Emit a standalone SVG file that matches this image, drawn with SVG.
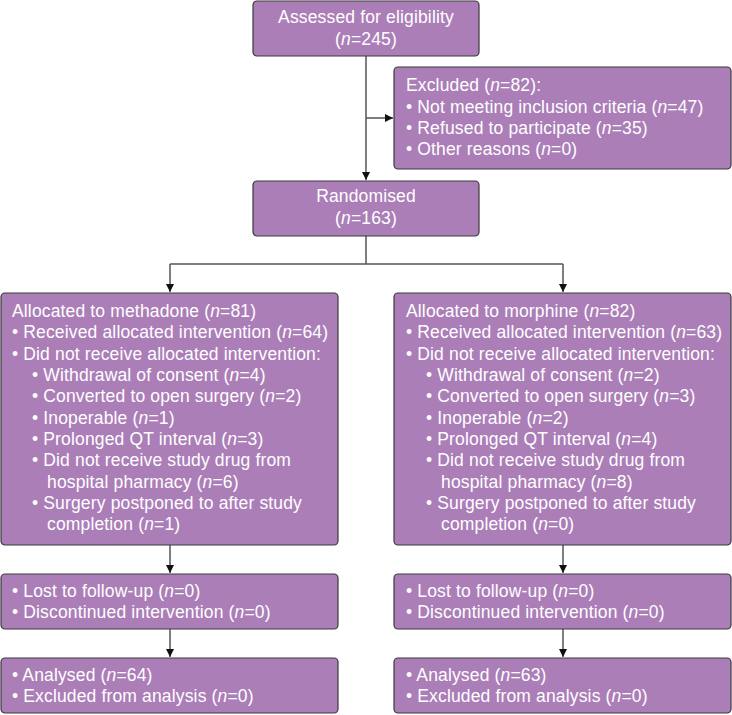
<svg xmlns="http://www.w3.org/2000/svg" width="732" height="715" viewBox="0 0 732 715">
<style>
.box{fill:#ab7eb8;stroke:#3a3a3a;stroke-width:1.2}
text{font-family:"Liberation Sans",Arial,sans-serif;font-size:17.5px;letter-spacing:0.15px;fill:#ffffff}
.c{text-anchor:middle}
.i{font-style:italic}
.ln{fill:none;stroke:#555;stroke-width:1.5}
</style>
<defs>
<marker id="ah" markerWidth="10" markerHeight="10" refX="8" refY="4" orient="auto" markerUnits="userSpaceOnUse">
<path d="M0,0 L8,4 L0,8 z" fill="#111"/>
</marker>
</defs>
<rect width="732" height="715" fill="#ffffff"/>
<g id="connectors">
<line class="ln" x1="366" y1="56" x2="366" y2="180" marker-end="url(#ah)"/>
<line class="ln" x1="366" y1="118" x2="393" y2="118" marker-end="url(#ah)"/>
<line class="ln" x1="366" y1="236" x2="366" y2="264"/>
<line class="ln" x1="170" y1="264" x2="563" y2="264"/>
<line class="ln" x1="170" y1="264" x2="170" y2="292" marker-end="url(#ah)"/>
<line class="ln" x1="563" y1="264" x2="563" y2="292" marker-end="url(#ah)"/>
<line class="ln" x1="170" y1="545" x2="170" y2="573" marker-end="url(#ah)"/>
<line class="ln" x1="563" y1="545" x2="563" y2="573" marker-end="url(#ah)"/>
<line class="ln" x1="170" y1="629" x2="170" y2="657" marker-end="url(#ah)"/>
<line class="ln" x1="563" y1="629" x2="563" y2="657" marker-end="url(#ah)"/>
</g>
<g id="assessed">
<rect class="box" x="253" y="1" width="226" height="55" rx="4"/>
<text class="c" x="366" y="23">Assessed for eligibility</text>
<text class="c" x="366" y="45">(<tspan class="i">n</tspan>=245)</text>
</g>
<g id="excluded">
<rect class="box" x="394" y="67" width="337" height="102" rx="4"/>
<text x="406" y="91">Excluded (<tspan class="i">n</tspan>=82):</text>
<text x="406" y="113">• Not meeting inclusion criteria (<tspan class="i">n</tspan>=47)</text>
<text x="406" y="134">• Refused to participate (<tspan class="i">n</tspan>=35)</text>
<text x="406" y="155">• Other reasons (<tspan class="i">n</tspan>=0)</text>
</g>
<g id="randomised">
<rect class="box" x="253" y="181" width="226" height="55" rx="4"/>
<text class="c" x="366" y="202">Randomised</text>
<text class="c" x="366" y="224">(<tspan class="i">n</tspan>=163)</text>
</g>
<g id="methadone">
<rect class="box" x="1" y="293" width="337" height="252" rx="4"/>
<text x="12" y="317">Allocated to methadone (<tspan class="i">n</tspan>=81)</text>
<text x="12" y="338">• Received allocated intervention (<tspan class="i">n</tspan>=64)</text>
<text x="12" y="359.5">• Did not receive allocated intervention:</text>
<text x="32" y="381">• Withdrawal of consent (<tspan class="i">n</tspan>=4)</text>
<text x="32" y="402">• Converted to open surgery (<tspan class="i">n</tspan>=2)</text>
<text x="32" y="423.5">• Inoperable (<tspan class="i">n</tspan>=1)</text>
<text x="32" y="445">• Prolonged QT interval (<tspan class="i">n</tspan>=3)</text>
<text x="32" y="466">• Did not receive study drug from</text>
<text x="47" y="487.5">hospital pharmacy (<tspan class="i">n</tspan>=6)</text>
<text x="32" y="509">• Surgery postponed to after study</text>
<text x="47" y="530">completion (<tspan class="i">n</tspan>=1)</text>
</g>
<g id="morphine">
<rect class="box" x="394" y="293" width="337" height="252" rx="4"/>
<text x="406" y="317">Allocated to morphine (<tspan class="i">n</tspan>=82)</text>
<text x="406" y="338">• Received allocated intervention (<tspan class="i">n</tspan>=63)</text>
<text x="406" y="359.5">• Did not receive allocated intervention:</text>
<text x="426" y="381">• Withdrawal of consent (<tspan class="i">n</tspan>=2)</text>
<text x="426" y="402">• Converted to open surgery (<tspan class="i">n</tspan>=3)</text>
<text x="426" y="423.5">• Inoperable (<tspan class="i">n</tspan>=2)</text>
<text x="426" y="445">• Prolonged QT interval (<tspan class="i">n</tspan>=4)</text>
<text x="426" y="466">• Did not receive study drug from</text>
<text x="441" y="487.5">hospital pharmacy (<tspan class="i">n</tspan>=8)</text>
<text x="426" y="509">• Surgery postponed to after study</text>
<text x="441" y="530">completion (<tspan class="i">n</tspan>=0)</text>
</g>
<g id="followup-left">
<rect class="box" x="1" y="574" width="337" height="55" rx="4"/>
<text x="12" y="597">• Lost to follow-up (<tspan class="i">n</tspan>=0)</text>
<text x="12" y="618">• Discontinued intervention (<tspan class="i">n</tspan>=0)</text>
</g>
<g id="followup-right">
<rect class="box" x="394" y="574" width="337" height="55" rx="4"/>
<text x="406" y="597">• Lost to follow-up (<tspan class="i">n</tspan>=0)</text>
<text x="406" y="618">• Discontinued intervention (<tspan class="i">n</tspan>=0)</text>
</g>
<g id="analysed-left">
<rect class="box" x="1" y="658" width="337" height="55" rx="4"/>
<text x="12" y="681">• Analysed (<tspan class="i">n</tspan>=64)</text>
<text x="12" y="702">• Excluded from analysis (<tspan class="i">n</tspan>=0)</text>
</g>
<g id="analysed-right">
<rect class="box" x="394" y="658" width="337" height="55" rx="4"/>
<text x="406" y="681">• Analysed (<tspan class="i">n</tspan>=63)</text>
<text x="406" y="702">• Excluded from analysis (<tspan class="i">n</tspan>=0)</text>
</g>
</svg>
